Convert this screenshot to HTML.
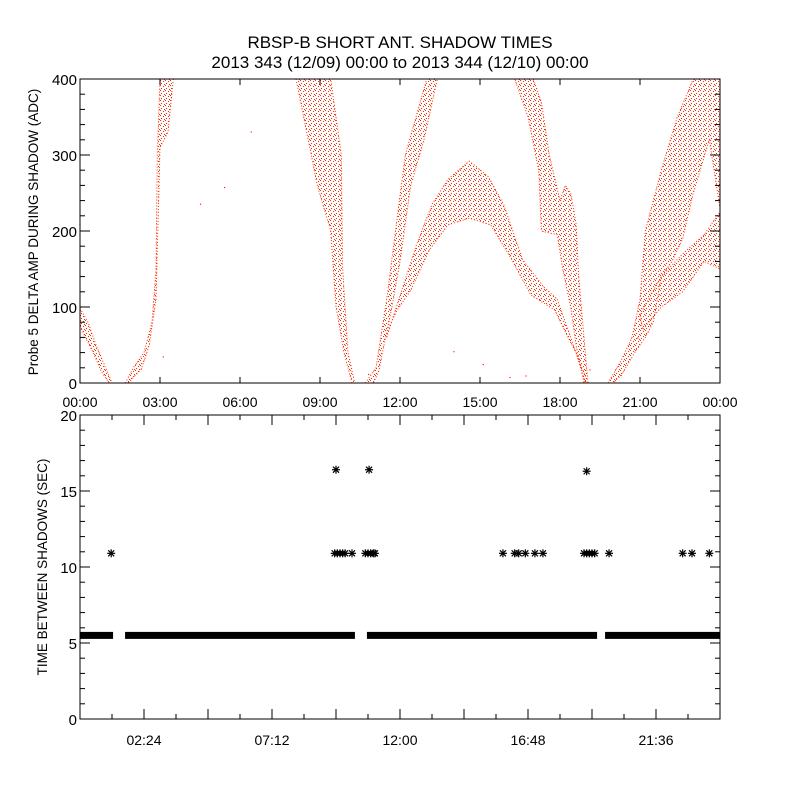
<!DOCTYPE html>
<html><head><meta charset="utf-8"><style>
html,body{margin:0;padding:0;background:#fff;}
svg{display:block;font-family:"Liberation Sans",sans-serif;}
</style></head><body>
<svg id="c" width="800" height="800" viewBox="0 0 800 800" xmlns="http://www.w3.org/2000/svg">
<defs>
<pattern id="stip" width="5" height="5" patternUnits="userSpaceOnUse">
<rect x="0" y="0" width="1" height="1" fill="#ff2a00"/>
<rect x="3" y="1" width="1" height="1" fill="#ff2a00"/>
<rect x="1" y="3" width="1" height="1" fill="#ff2a00"/>
<rect x="4" y="4" width="1" height="1" fill="#ff2a00"/>
</pattern>
</defs>
<text x="400" y="48" text-anchor="middle" font-size="17">RBSP-B SHORT ANT. SHADOW TIMES</text>
<text x="400" y="68" text-anchor="middle" font-size="17">2013 343 (12/09) 00:00 to 2013 344 (12/10) 00:00</text>
<g id="top"></g>
<g id="bot"></g>
</svg>
<script>
// ---- top panel data (hours, ADC) envelopes of the red scatter ----
const bandA = [[0,98],[0.3,80],[0.6,50],[0.9,25],[1.2,0],[1.1,0],[0.8,15],[0.5,40],[0.2,60],[0,75]];
const bandB = [[1.7,0],[2.0,20],[2.4,40],[2.7,80],[2.85,150],[2.9,300],[3.0,400],[3.5,400],[3.3,330],[3.0,310],[2.85,110],[2.6,50],[2.3,18],[1.8,0]];
const bandC = [[8.1,400],[8.5,330],[8.9,260],[9.4,200],[9.6,100],[9.9,40],[10.2,0],[10.3,0],[10.05,40],[9.85,150],[9.8,300],[9.4,400]];
const bandD = [[10.7,0],[11.1,20],[11.5,110],[12.2,300],[13.0,400],[13.4,400],[12.9,320],[12.4,260],[12.0,160],[11.7,100],[11.4,50],[11.2,15],[11.0,0]];
const bandDlow = [[11.5,60],[12.0,115],[12.6,180],[13.2,235],[13.8,268],[14.6,292],[15.3,272],[15.9,234],[16.6,162],[17.4,126],[17.9,110],[18.3,70],[18.7,30],[19.0,5],[18.95,0],[18.6,40],[18.3,60],[17.8,96],[16.9,116],[16.2,162],[15.4,208],[14.6,217],[13.8,208],[13.1,175],[12.4,122],[11.9,96],[11.6,75]];
const bandE = [[16.3,400],[16.8,350],[17.2,280],[17.3,200],[17.9,195],[18.1,150],[18.4,100],[18.6,50],[18.9,0],[19.05,0],[18.9,60],[18.7,140],[18.6,210],[18.4,250],[18.2,260],[18.0,240],[17.6,300],[17.3,370],[17.0,400]];
const bandF = [[19.8,0],[20.3,30],[20.7,60],[21.0,110],[21.2,200],[21.8,280],[22.4,350],[23.0,400],[24,400],[24,230],[23.6,320],[23.0,250],[22.6,190],[22.2,160],[21.8,140],[21.5,80],[21.2,60],[20.8,40],[20.3,10],[20.0,0]];
const bandFlow = [[21.0,90],[21.8,140],[22.6,170],[23.4,195],[24,225],[24,150],[23.4,160],[22.6,120],[21.8,100],[21.1,70]];
const strayHours = [4.5,5.4,6.4,3.1,10.8,14.0,15.1,16.1,16.7,19.1,20.9];
const strayVals  = [236,258,331,35,12,42,25,8,10,18,60];
const topXTicks = ["00:00","03:00","06:00","09:00","12:00","15:00","18:00","21:00","00:00"];
const topYTicks = [0,100,200,300,400];
// ---- bottom panel data ----
const bandSegStart = [0,1.69,10.76,19.69];
const bandSegEnd   = [1.24,10.31,19.39,24];
const bandValue = 5.5;
const outHours = [1.17,9.55,9.65,9.75,9.85,9.94,10.2,10.7,10.8,10.9,11.0,11.06,15.86,16.3,16.45,16.7,17.06,17.36,18.9,19.0,19.1,19.2,19.3,19.84,22.6,22.95,23.6,9.6,10.84,19.0];
const outVals  = [10.9,10.9,10.9,10.9,10.9,10.9,10.9,10.9,10.9,10.9,10.9,10.9,10.9,10.9,10.9,10.9,10.9,10.9,10.9,10.9,10.9,10.9,10.9,10.9,10.9,10.9,10.9,16.4,16.4,16.3];
const botXTicks = ["02:24","07:12","12:00","16:48","21:36"];
const botYTicks = [0,5,10,15,20];

const NS="http://www.w3.org/2000/svg";
function mk(p,t,a){const e=document.createElementNS(NS,t);for(const k in a)e.setAttribute(k,a[k]);p.appendChild(e);return e;}
const X0=80,X1=720;
const xs=h=>X0+h/24*(X1-X0);
const T0=79,T1=383;
const yt=v=>T1-v/400*(T1-T0);
const B0=415,B1=719;
const yb=v=>B1-v/20*(B1-B0);

const topG=document.getElementById('top');
const bands=[bandA,bandB,bandC,bandD,bandDlow,bandE,bandF,bandFlow];
const bandNames=['band-a','band-b','band-c','band-d','band-d-lower','band-e','band-f','band-f-lower'];
const cp=mk(topG,'clipPath',{id:'tc'});mk(cp,'rect',{x:X0,y:T0,width:X1-X0,height:T1-T0});
const bg=mk(topG,'g',{'clip-path':'url(#tc)'});
bands.forEach((b,i)=>{
  const pts=b.map(p=>xs(p[0]).toFixed(1)+','+yt(p[1]).toFixed(1)).join(' ');
  const el=mk(bg,'polygon',{points:pts,fill:'url(#stip)',stroke:'#ff2a00','stroke-width':1,'stroke-dasharray':'1 2'});
  
  
});
strayHours.forEach((h,i)=>{
  const el=mk(bg,'rect',{x:xs(h),y:yt(strayVals[i]),width:1.2,height:1.2,fill:'#ff2a00'});
  
  
});
mk(topG,'rect',{x:X0,y:T0,width:X1-X0,height:T1-T0,fill:'none',stroke:'#000','stroke-width':1});
topXTicks.forEach((l,i)=>{
  const x=X0+i*(X1-X0)/(topXTicks.length-1);
  mk(topG,'line',{x1:x,x2:x,y1:T1,y2:T1-6,stroke:'#000'});
  mk(topG,'line',{x1:x,x2:x,y1:T0,y2:T0+6,stroke:'#000'});
  const t=mk(topG,'text',{x:x,y:T1+24,'text-anchor':'middle','font-size':14});t.textContent=l;
  
  
});
for(let v=0;v<=400;v+=20){
  const y=yt(v),L=v%100===0?10:5;
  mk(topG,'line',{x1:X0,x2:X0+L,y1:y,y2:y,stroke:'#000'});
  mk(topG,'line',{x1:X1,x2:X1-L,y1:y,y2:y,stroke:'#000'});
}
topYTicks.forEach(v=>{
  const t=mk(topG,'text',{x:X0-3,y:yt(v)+6,'text-anchor':'end','font-size':15});t.textContent=v;
  
  
});
const ty=mk(topG,'text',{x:0,y:0,transform:'translate(38,232) rotate(-90)','text-anchor':'middle','font-size':13.5});
ty.textContent='Probe 5 DELTA AMP DURING SHADOW (ADC)';



const botG=document.getElementById('bot');
bandSegStart.forEach((s,i)=>{
  const x1=xs(s),x2=xs(bandSegEnd[i]);
  const el=mk(botG,'rect',{x:x1,y:yb(bandValue)-3.5,width:x2-x1,height:7,fill:'#000'});
  
  
});
function star(x,y){
  const g=mk(botG,'g',{stroke:'#000','stroke-width':1.2});
  mk(g,'line',{x1:x-4,x2:x+4,y1:y,y2:y});
  mk(g,'line',{x1:x,x2:x,y1:y-4,y2:y+4});
  mk(g,'line',{x1:x-3,x2:x+3,y1:y-3,y2:y+3});
  mk(g,'line',{x1:x-3,x2:x+3,y1:y+3,y2:y-3});
  return g;
}
outHours.forEach((h,i)=>{
  const g=star(xs(h),yb(outVals[i]));
  
  
});
mk(botG,'rect',{x:X0,y:B0,width:X1-X0,height:B1-B0,fill:'none',stroke:'#000','stroke-width':1});
for(let k=1;k<20;k++){
  const x=xs(k*1.2),L=k%2===0?10:5;
  mk(botG,'line',{x1:x,x2:x,y1:B1,y2:B1-L,stroke:'#000'});
  mk(botG,'line',{x1:x,x2:x,y1:B0,y2:B0+L,stroke:'#000'});
}
botXTicks.forEach((l,i)=>{
  const x=xs(2.4+i*4.8);
  const t=mk(botG,'text',{x:x,y:B1+26,'text-anchor':'middle','font-size':14});t.textContent=l;
  
  
});
for(let v=0;v<=20;v++){
  const y=yb(v),L=v%5===0?10:5;
  mk(botG,'line',{x1:X0,x2:X0+L,y1:y,y2:y,stroke:'#000'});
  mk(botG,'line',{x1:X1,x2:X1-L,y1:y,y2:y,stroke:'#000'});
}
botYTicks.forEach(v=>{
  const t=mk(botG,'text',{x:X0-3,y:yb(v)+6,'text-anchor':'end','font-size':15});t.textContent=v;
  
  
});
const by=mk(botG,'text',{x:0,y:0,transform:'translate(47,567) rotate(-90)','text-anchor':'middle','font-size':13.5});
by.textContent='TIME BETWEEN SHADOWS (SEC)';


</script>
</body></html>
